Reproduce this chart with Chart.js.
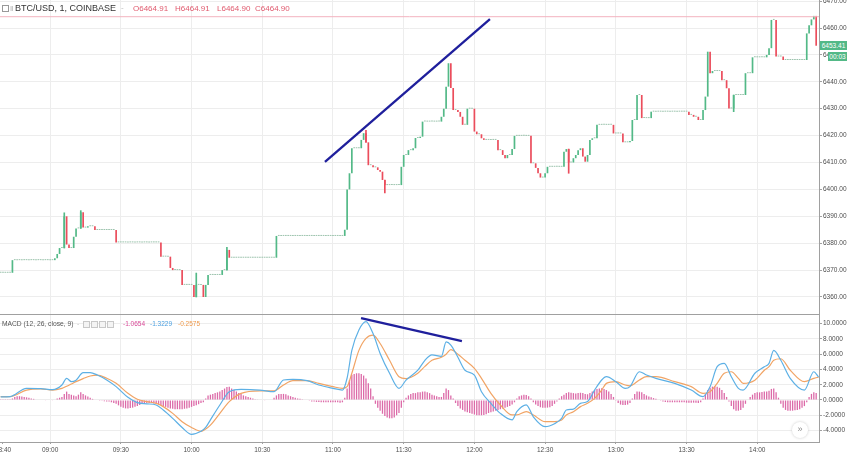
<!DOCTYPE html>
<html><head><meta charset="utf-8">
<script src="https://cdn.jsdelivr.net/npm/chart.js@4.4.1/dist/chart.umd.min.js"></script>
<style>
html,body{margin:0;padding:0;background:#fff;overflow:hidden;}
#wrap{position:relative;width:848px;height:455px;font-family:'Liberation Sans',Arial,sans-serif;}
canvas{position:absolute;left:0;}
#c1{top:0;}
#c2{top:315px;}
.t{position:absolute;white-space:nowrap;line-height:1;}
.box{position:absolute;width:5px;height:5px;border:1px solid #c8c8c8;background:#f4f4f4;}
.badge{position:absolute;background:#53b987;color:#fff;font-size:6.5px;line-height:9px;height:9px;text-align:center;}
</style></head><body>
<div id="wrap">
<canvas id="c1" width="848" height="315"></canvas>
<canvas id="c2" width="848" height="140"></canvas>

<div class="box" style="left:2px;top:5px;width:5px;height:5px;border-color:#999;background:#fff;"></div>
<div class="t" style="left:10px;top:5px;font-size:8px;color:#aaa;">‖</div>
<div class="t" style="left:15px;top:4px;font-size:9px;color:#333;">BTC/USD, 1, COINBASE</div>
<div class="t" style="left:121px;top:4px;font-size:8px;color:#bbb;">-</div>
<div class="t" style="left:133px;top:5px;font-size:8px;color:#e05a6e;">O6464.91</div>
<div class="t" style="left:175px;top:5px;font-size:8px;color:#e05a6e;">H6464.91</div>
<div class="t" style="left:217px;top:5px;font-size:8px;color:#e05a6e;">L6464.90</div>
<div class="t" style="left:255px;top:5px;font-size:8px;color:#e05a6e;">C6464.90</div>

<div class="t" style="left:2px;top:321px;font-size:6.7px;color:#555;">MACD (12, 26, close, 9)</div>
<div class="t" style="left:77px;top:321px;font-size:6.7px;color:#bbb;">-</div>
<div class="box" style="left:83px;top:321px;"></div>
<div class="box" style="left:91px;top:321px;"></div>
<div class="box" style="left:99px;top:321px;"></div>
<div class="box" style="left:107px;top:321px;"></div>
<div class="t" style="left:123px;top:321px;font-size:6.5px;color:#d94a98;">-1.0654</div>
<div class="t" style="left:150px;top:321px;font-size:6.5px;color:#4a9fe0;">-1.3229</div>
<div class="t" style="left:178px;top:321px;font-size:6.5px;color:#ef9a4c;">-0.2575</div>

<div class="t" style="left:792px;top:422px;width:16px;height:16px;border-radius:8px;background:#fff;box-shadow:0 0 3px #ccc;font-size:9px;color:#888;text-align:center;line-height:15px;">»</div>

<div id="b1" class="badge" style="left:820px;width:27px;">6453.41</div>
<div id="b2" class="badge" style="left:828px;width:19px;">00:03</div>
</div>
<script>
// ---------- DATA ----------
const timeTicks = ['08:40','09:00','09:30','10:00','10:30','11:00','11:30','12:00','12:30','13:00','13:30','14:00'];
const priceTicks = [6360,6370,6380,6390,6400,6410,6420,6430,6440,6450,6460,6470];
const macdTicks = [-4,-2,0,2,4,6,8,10];

// 1-minute candles: minute offsets from 08:40 where the close changes, and the new close
const chgMinute = [-1,4,22,23,24,26,27,28,30,31,33,34,36,39,48,67,71,72,76,81,82,85,86,87,93,95,96,116,145,146,147,148,152,153,154,155,157,159,160,161,162,169,170,172,174,175,177,178,186,187,188,189,190,191,193,194,195,197,200,201,203,204,210,212,213,214,216,217,224,226,227,228,230,231,238,239,240,242,243,244,245,246,247,248,249,250,252,259,263,266,267,269,271,275,291,293,295,297,298,299,300,301,305,307,308,310,315,318,324,325,326,328,331,341,342,343,344,345];
const chgClose = [6369,6373.7,6374.4,6376,6378.2,6390,6379.5,6378.2,6382.4,6385.5,6391.5,6385.8,6386.3,6384.9,6380.3,6375,6370.8,6370,6364.5,6360,6364.5,6360,6364.5,6368.2,6370,6377.5,6374.6,6382.7,6385,6400,6406,6415.3,6418.4,6420.9,6417.5,6409,6408.2,6407.2,6406.6,6403.5,6401.6,6408.4,6412.8,6414.6,6415.3,6419.1,6419.6,6425.2,6427,6430,6438.2,6446.9,6437.7,6429.5,6428.8,6427,6424,6430,6421.5,6420.5,6419,6418.4,6414.6,6412.8,6411.6,6412.8,6415,6419.9,6409.7,6408,6406,6404.4,6406,6408.4,6414,6415,6410,6411.6,6412.8,6414.6,6415.3,6412.2,6410.3,6412.8,6418.4,6419,6424,6420.8,6417.5,6418,6425.8,6435.1,6426.5,6428.9,6427.7,6427,6425.8,6429.5,6434.5,6451.2,6443.2,6444,6440.6,6437.6,6430.1,6435.1,6443.2,6449.1,6450,6452.5,6463,6449.4,6448.1,6458,6461,6463.2,6464.5,6453.41];
// candles with visible wicks
const wickMinute = [26,33,82,95,154,162,240,310];
const wickLow = [6378.2,6385.5,6360,6370,6417.5,6398.7,6406,6428.9];
const wickHigh = [6391.3,6392.1,6368.9,6378.5,6422,6403.5,6415,6435.1];
const markPrice = 6464.2;
const lastPrice = 6453.41;
const countdown = '00:03';

// MACD histogram, one value per minute starting at minute -1
const histStart = -1;
const histValues = [
 .1,.1,.1,.1,.1,.2,.4,.5,.5,.45,
 .4,.35,.3,.2,.15,.05,-.05,-.05,-.05,-.05,
 -.05,-.05,-.05,-.05,.2,.3,.4,.8,1.1,.8,
 .7,.6,.5,.7,1.0,.8,.6,.45,.3,.15,
 .05,0,-.1,-.1,-.15,-.2,-.2,-.3,-.4,-.5,
 -.7,-.9,-1.0,-1.1,-1.1,-1.05,-1.0,-.9,-.8,-.65,
 -.5,-.45,-.4,-.4,-.4,-.45,-.5,-.55,-.65,-.8,
 -.9,-1.0,-1.1,-1.15,-1.2,-1.2,-1.2,-1.2,-1.15,-1.1,
 -1.0,-.9,-.8,-.7,-.55,-.4,-.3,.2,.6,.7,
 .8,.9,1.0,1.1,1.3,1.5,1.7,1.75,1.5,1.3,
 1.1,.9,.8,.6,.5,.4,.3,.2,.1,.05,
 0,-.05,-.05,-.05,0,0,.3,.6,.8,.8,
 .8,.75,.6,.5,.4,.3,.2,.15,.1,.05,
 0,-.1,-.2,-.2,-.25,-.25,-.3,-.3,-.3,-.3,
 -.3,-.3,-.3,-.3,-.35,-.3,.3,1.5,2.6,3.3,
 3.4,3.5,3.5,3.4,3.2,2.8,2.2,1.5,.5,-.5,
 -1.0,-1.4,-1.8,-2.1,-2.3,-2.4,-2.4,-2.3,-2.0,-1.7,
 -1.0,-.3,.3,.6,.8,.9,.9,1.0,1.0,1.1,
 1.1,1.0,.9,.7,.6,.5,.4,.4,.9,1.5,
 1.3,.6,.2,-.4,-.8,-1.1,-1.3,-1.5,-1.6,-1.7,
 -1.8,-1.9,-2.0,-2.0,-2.0,-1.95,-1.85,-1.7,-1.6,-1.5,
 -1.4,-1.3,-1.2,-1.1,-1.0,-.9,-.8,-.6,-.3,.2,
 .5,.6,.7,.65,.5,.2,-.3,-.6,-.8,-.95,
 -1.0,-1.0,-1.0,-.95,-.8,-.5,-.2,.2,.5,.7,
 .9,1.0,.95,.9,.85,.9,.95,.9,.8,.75,
 .9,1.1,1.3,1.45,1.5,1.55,1.45,1.3,1.1,.8,
 .4,-.1,-.4,-.6,-.65,-.65,-.6,-.4,.2,.8,
 1.1,1.1,1.0,.8,.6,.45,.35,.25,.15,.05,
 -.1,-.2,-.25,-.3,-.3,-.3,-.3,-.3,-.3,-.3,
 -.3,-.35,-.35,-.35,-.35,-.35,-.4,-.3,.2,.8,
 1.3,1.6,1.75,1.8,1.75,1.6,1.3,.9,.4,-.2,
 -.8,-1.2,-1.4,-1.4,-1.3,-1.0,-.5,0,.4,.7,
 .9,1.0,1.0,1.05,1.1,1.1,1.2,1.45,1.5,1.0,
 .3,-.5,-1.0,-1.3,-1.4,-1.4,-1.4,-1.35,-1.3,-1.2,
 -1.0,-.8,-.3,.4,.8,1.0,.9
];
// MACD and signal lines read at these minutes
const lineMinute = [-1,3,10,16,21,25,27,29,31,34,37,40,44,48,53,57,61,65,68,72,76,80,84,86,88,92,96,101,109,115,119,123,129,134,140,144,146,148,151,154,157,160,164,168,171,176,179,182,186,188,190,193,196,200,203,207,211,216,218,222,225,230,234,237,239,242,245,248,251,254,256,260,264,266,270,273,277,285,292,297,300,303,306,309,312,314,319,323,325,327,330,334,340,344,346];
const macdValue = [0.4,0.45,1.53,1.5,1.35,1.96,2.84,2.4,2.6,3.58,3.58,3.27,2.62,1.75,0.35,-0.35,-0.5,-0.65,-1.31,-2.4,-3.6,-4.5,-4.1,-3.6,-2.6,-0.65,1.09,1.4,1.3,1.09,2.62,2.7,2.53,1.96,1.53,1.3,2.88,6.5,9.16,10.25,8.7,6.1,3.5,1.53,2.6,3.9,5.2,5.9,5.7,7.6,7.2,5.6,3.9,3.27,1.09,-0.44,-1.75,-2.6,-1.53,-0.65,-2.2,-3.49,-3.1,-2.4,-1.31,-1.2,-0.44,-0.2,1.3,2.62,3.05,2.4,1.53,1.75,3.7,3.27,2.84,2.18,1.3,0.43,1.75,4.36,4.8,3.05,1.53,1.3,3.5,4.36,4.8,6.5,5.2,2.84,1.3,3.7,3.0];
const signalValue = [0.43,0.45,1.3,1.45,1.3,1.53,1.8,2.1,2.4,2.8,3.14,3.27,2.84,2.18,0.87,0.09,-0.22,-0.44,-0.87,-1.75,-2.84,-3.6,-4.1,-3.8,-3.3,-1.75,-0.22,0.87,1.2,1.2,1.96,2.53,2.53,2.18,1.75,1.53,1.75,3.5,6.5,8.07,8.5,7.4,5.2,3.05,2.8,3.5,4.4,5.2,5.6,6.0,6.6,6.0,5.2,4.14,2.84,0.87,-0.65,-1.96,-1.96,-1.53,-1.96,-2.84,-2.84,-2.62,-1.96,-1.53,-0.87,-0.44,0.22,1.3,2.18,2.4,1.96,1.85,2.62,3.05,3.05,2.4,1.75,0.87,1.09,2.18,3.5,3.7,2.84,2.18,2.6,3.9,4.36,5.2,5.4,3.9,2.4,2.84,3.0];
// drawn trend lines (minute, value)
const trendPriceMinute = [136.6, 206.6];
const trendPriceValue = [6410.2, 6463.3];
const trendMacdMinute = [151.9, 194.7];
const trendMacdValue = [10.73, 7.72];

// ---------- STYLE ----------
const UP = '#53b987', DOWN = '#eb4d5c', FLAT = '#9cc3ad';
const GRID = '#ededed', AXIS = '#a0a0a0', TXT = '#4d4d4d';
const FONT = "'Liberation Sans', Arial, sans-serif";
const xMin = -1.27, xMax = 346.2;
Chart.defaults.font.family = FONT;

function toMin(t){ const p = t.split(':').map(Number); return p[0]*60 + p[1] - (8*60+40); }
const tickVals = timeTicks.map(toMin);

// build candles
const candles = [];
{
  let k = 0, cur = null, prev = null;
  for (let m = chgMinute[0]; m <= chgMinute[chgMinute.length-1]; m++) {
    if (chgMinute[k] === m) { cur = chgClose[k]; k++; }
    const o = prev === null ? cur : prev;
    candles.push({m, o, c: cur});
    prev = cur;
  }
}
const colorOf = d => d.c > d.o ? UP : (d.c < d.o ? DOWN : FLAT);
const bodyData = candles.map(d => ({x: d.m, y: [d.o, d.c]}));
const bodyColors = candles.map(colorOf);
const wickData = wickMinute.map((m, i) => {
  const d = candles.find(c => c.m === m);
  return {x: m, y: [Math.min(wickLow[i], d.o, d.c), Math.max(wickHigh[i], d.o, d.c)]};
});
const wickColors = wickMinute.map(m => colorOf(candles.find(c => c.m === m)));

function xScale(showLabels) {
  return {
    type: 'linear', min: xMin, max: xMax, offset: false,
    afterBuildTicks: s => { s.ticks = tickVals.map(v => ({value: v})); },
    afterFit: s => { s.height = showLabels ? 13 : 0; s.paddingLeft = 0; s.paddingRight = 0; },
    ticks: {display: showLabels, autoSkip: false, maxRotation: 0, padding: 2,
            font: {size: 6.5}, color: TXT,
            callback: (v) => { const i = tickVals.indexOf(v); return i >= 0 ? timeTicks[i] : ''; }},
    grid: {offset: false, drawTicks: showLabels, tickLength: 2, tickColor: AXIS,
           color: ctx => (ctx.tick && ctx.tick.value === tickVals[0]) ? 'rgba(0,0,0,0)' : GRID},
    border: {display: true, color: AXIS}
  };
}
function yScale(min, max, ticks, fmt) {
  return {
    position: 'right', min, max,
    afterBuildTicks: s => { s.ticks = ticks.map(v => ({value: v})); },
    afterFit: s => { s.width = 29; s.paddingTop = 0; s.paddingBottom = 0; },
    ticks: {font: {size: 6.5}, color: TXT, padding: 1, callback: fmt},
    grid: {color: GRID, drawTicks: true, tickLength: 3, tickColor: AXIS},
    border: {display: true, color: AXIS}
  };
}

const chart1 = new Chart(document.getElementById('c1'), {
  type: 'bar',
  data: {datasets: [
    {type: 'line', data: [{x: xMin, y: markPrice}, {x: xMax, y: markPrice}], borderColor: '#f3b3bf', borderWidth: 1, pointRadius: 0, order: 0},
    {type: 'line', data: trendPriceMinute.map((m, i) => ({x: m, y: trendPriceValue[i]})), borderColor: '#1f1f9c', borderWidth: 2.3, pointRadius: 0, order: -1},
    {data: bodyData, backgroundColor: bodyColors, grouped: false, barPercentage: 0.72, categoryPercentage: 1, minBarLength: 1, order: 1},
    {data: wickData, backgroundColor: wickColors, grouped: false, maxBarThickness: 1, barPercentage: 1, categoryPercentage: 1, order: 2}
  ]},
  options: {
    responsive: false, animation: false, devicePixelRatio: 1,
    layout: {padding: {left: 0, right: 0, top: 0, bottom: 1}},
    plugins: {legend: {display: false}, tooltip: {enabled: false}},
    scales: {
      x: xScale(false),
      y: yScale(6353.68, 6470.41, priceTicks, v => Number(v).toFixed(2))
    }
  }
});

const chart2 = new Chart(document.getElementById('c2'), {
  type: 'bar',
  data: {datasets: [
    {type: 'line', data: trendMacdMinute.map((m, i) => ({x: m, y: trendMacdValue[i]})), borderColor: '#1f1f9c', borderWidth: 2.3, pointRadius: 0, order: -2},
    {type: 'line', data: lineMinute.map((m, i) => ({x: m, y: macdValue[i]})), borderColor: '#5db0e5', borderWidth: 1.2, pointRadius: 0, cubicInterpolationMode: 'monotone', order: -1},
    {type: 'line', data: lineMinute.map((m, i) => ({x: m, y: signalValue[i]})), borderColor: '#f1a465', borderWidth: 1.2, pointRadius: 0, cubicInterpolationMode: 'monotone', order: 0},
    {data: histValues.map((v, i) => ({x: histStart + i, y: v})), backgroundColor: '#dc6aa8', grouped: false, barPercentage: 0.55, categoryPercentage: 1, order: 1}
  ]},
  options: {
    responsive: false, animation: false, devicePixelRatio: 1,
    layout: {padding: 0},
    plugins: {legend: {display: false}, tooltip: {enabled: false}},
    scales: {
      x: xScale(true),
      y: yScale(-5.5, 11.13, macdTicks, v => Number(v).toFixed(4))
    }
  }
});

// price badges on the axis
const yp = chart1.scales.y.getPixelForValue(lastPrice);
const b1 = document.getElementById('b1'); b1.textContent = lastPrice.toFixed(2); b1.style.top = (yp - 4.5) + 'px';
const b2 = document.getElementById('b2'); b2.textContent = countdown; b2.style.top = (yp + 6) + 'px';
</script>
</body></html>
